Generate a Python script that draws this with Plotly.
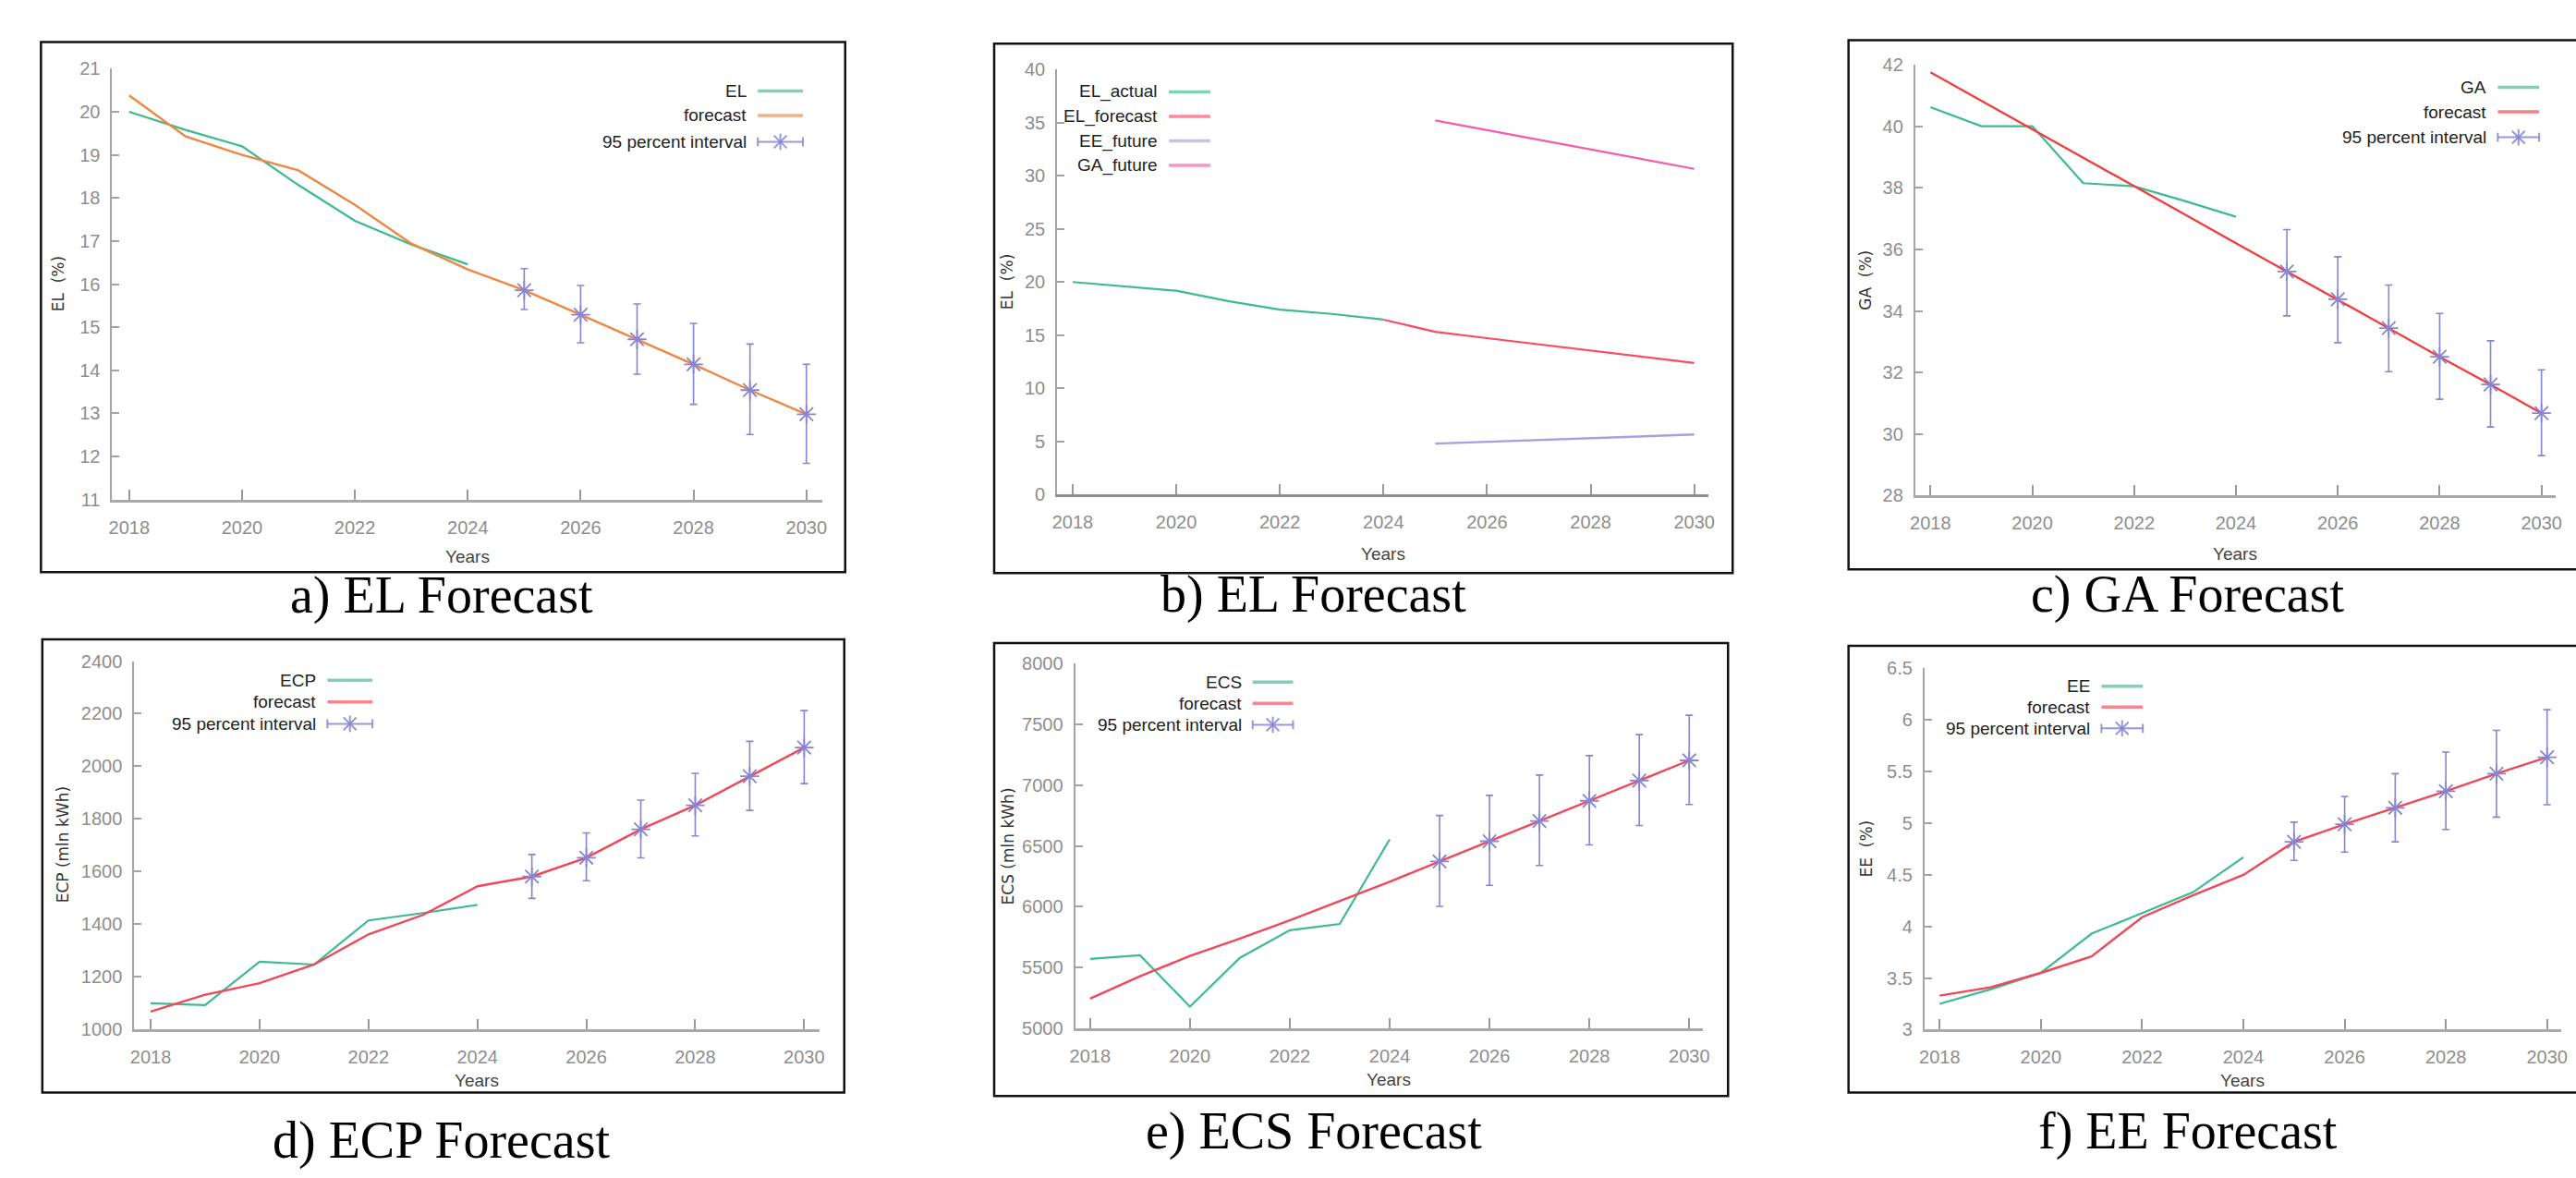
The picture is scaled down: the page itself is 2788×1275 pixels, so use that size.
import plotly.graph_objects as go

W, H = 2788, 1275

# ---------------- data ----------------
years_all = [2018, 2019, 2020, 2021, 2022, 2023, 2024, 2025, 2026, 2027, 2028, 2029, 2030]
years_hist = [2018, 2019, 2020, 2021, 2022, 2023, 2024]
years_fc = [2025, 2026, 2027, 2028, 2029, 2030]
years_b_fc = [2024, 2025, 2026, 2027, 2028, 2029, 2030]
x_ticks = [2018, 2020, 2022, 2024, 2026, 2028, 2030]

# a) EL
el_actual = [20.0, 19.58, 19.2, 18.3, 17.47, 16.92, 16.46]
el_forecast = [20.38, 19.43, 19.0, 18.64, 17.84, 16.94, 16.34, 15.86, 15.29, 14.72, 14.14, 13.54, 12.98]
el_upper = [16.36, 15.97, 15.54, 15.09, 14.61, 14.14]
el_lower = [15.41, 14.64, 13.91, 13.21, 12.51, 11.84]

# b) EL combined
b_el_actual = [20.0, 19.6, 19.18, 18.2, 17.4, 17.0, 16.46]
b_el_forecast = [16.46, 15.31, 14.72, 14.12, 13.57, 12.97, 12.38]
b_ee_future = [4.8, 4.98, 5.14, 5.3, 5.47, 5.65]
b_ga_future = [35.2, 34.3, 33.4, 32.5, 31.6, 30.65]

# c) GA
ga_actual = [40.62, 40.0, 40.0, 38.15, 38.05, 37.57, 37.06]
ga_forecast = [41.75, 40.83, 39.9, 38.98, 38.06, 37.13, 36.2, 35.28, 34.38, 33.44, 32.51, 31.61, 30.68]
ga_upper = [36.64, 35.76, 34.84, 33.92, 33.03, 32.09]
ga_lower = [33.84, 32.97, 32.03, 31.13, 30.23, 29.3]

# d) ECP
ecp_actual = [1098, 1091, 1256, 1245, 1413, 1441, 1472]
ecp_forecast = [1066, 1130, 1174, 1245, 1360, 1434, 1543, 1580, 1652, 1760, 1851, 1962, 2071]
ecp_upper = [1664, 1746, 1871, 1973, 2095, 2212]
ecp_lower = [1497, 1564, 1651, 1735, 1832, 1934]

# e) ECS
ecs_actual = [5569, 5599, 5176, 5578, 5805, 5857, 6553]
ecs_forecast = [5242, 5427, 5593, 5736, 5887, 6044, 6205, 6371, 6538, 6704, 6871, 7037, 7204]
ecs_upper = [6750, 6916, 7083, 7243, 7416, 7576]
ecs_lower = [6002, 6175, 6338, 6508, 6668, 6841]

# f) EE
ee_actual = [3.25, 3.39, 3.55, 3.93, 4.13, 4.33, 4.67]
ee_forecast = [3.33, 3.41, 3.55, 3.71, 4.09, 4.30, 4.50, 4.82, 4.99, 5.15, 5.31, 5.48, 5.64]
ee_upper = [5.01, 5.26, 5.48, 5.69, 5.90, 6.10]
ee_lower = [4.64, 4.72, 4.82, 4.94, 5.06, 5.18]

# ---------------- style ----------------
GREEN = "#3dba8e"
ORANGE = "#ec8744"
RED = "#f0485a"
RED_C = "#ee4040"
LAV = "#8785d2"
PINK = "#f65ab0"
B_RED = "#fa4a68"
B_LAV = "#a4a2dc"

SANS = "Liberation Sans, Arial, sans-serif"
TICK_FONT = dict(family=SANS, size=20, color="#8e8e8e")
LEG_FONT = dict(family=SANS, size=19, color="#222222")
YT_FONT = dict(family="DejaVu Sans, sans-serif", size=17, color="#333333")
XT_FONT = dict(family=SANS, size=19, color="#444444")
CAP_FONT = dict(family="Liberation Serif, Times New Roman, serif", size=56, color="#000000")


def fx(px):
    return px / W


def fy(py):
    return 1 - py / H


def split_fc(fc):
    return fc[7:]


def err_plus(fc, up):
    return [u - c for u, c in zip(up, split_fc(fc))]


def err_minus(fc, lo):
    return [c - l for l, c in zip(lo, split_fc(fc))]


fig = go.Figure()

panels = [
    dict(n=1, plot=(116, 888, 64.5, 539), yr=(11, 21), dt=1, ylab="EL  (%)", ylab_x=57,
         box=(38.5, 913, 35, 619), cap="a) EL Forecast", cap_xy=(474, 645), years_y=602,
         leg=(808, 818, 867, [89, 116, 145])),
    dict(n=2, plot=(1143.5, 1852, 65.3, 533.5), yr=(0, 40), dt=5, ylab="EL  (%)", ylab_x=1089,
         box=(1075, 1878, 37, 620), cap="b) EL Forecast", cap_xy=(1422, 644), years_y=599,
         leg=(1255, 1265, 1310, [90, 117, 144, 171])),
    dict(n=3, plot=(2076.5, 2773, 60, 534.7), yr=(28, 42), dt=2, ylab="GA  (%)", ylab_x=2023,
         box=(2004, 2830, 33, 616), cap="c) GA Forecast", cap_xy=(2373, 644), years_y=599,
         leg=(2700, 2710, 2755, [85, 112, 140])),
    dict(n=4, plot=(140, 885, 717, 1122), yr=(1000, 2400), dt=200, ylab="ECP (mln kWh)", ylab_x=62,
         box=(40, 912, 693, 1192), cap="d) ECP Forecast", cap_xy=(474, 1245), years_y=1179,
         leg=(340, 350, 399, [738, 762, 786])),
    dict(n=5, plot=(1163, 1846, 719.8, 1121), yr=(5000, 8000), dt=500, ylab="ECS (mln kWh)", ylab_x=1090,
         box=(1075, 1873, 697, 1196), cap="e) ECS Forecast", cap_xy=(1423, 1235), years_y=1178,
         leg=(1346, 1356, 1400, [740, 763.5, 787])),
    dict(n=6, plot=(2086.6, 2779, 725, 1122.8), yr=(3, 6.5), dt=0.5, ylab="EE  (%)", ylab_x=2023,
         box=(2004, 2830, 700, 1192), cap="f) EE Forecast", cap_xy=(2373, 1235), years_y=1179,
         leg=(2269, 2279, 2324, [744.5, 767.5, 791])),
]

series = {
    1: dict(actual=("EL", el_actual, GREEN), fc=("forecast", el_forecast, ORANGE), up=el_upper, lo=el_lower),
    3: dict(actual=("GA", ga_actual, GREEN), fc=("forecast", ga_forecast, RED_C), up=ga_upper, lo=ga_lower),
    4: dict(actual=("ECP", ecp_actual, GREEN), fc=("forecast", ecp_forecast, RED), up=ecp_upper, lo=ecp_lower),
    5: dict(actual=("ECS", ecs_actual, GREEN), fc=("forecast", ecs_forecast, RED), up=ecs_upper, lo=ecs_lower),
    6: dict(actual=("EE", ee_actual, GREEN), fc=("forecast", ee_forecast, RED), up=ee_upper, lo=ee_lower),
}

shapes = []
annotations = []

for p in panels:
    n = p["n"]
    xa = "x" if n == 1 else f"x{n}"
    ya = "y" if n == 1 else f"y{n}"
    l, r, t, b = p["plot"]
    fig.layout[("xaxis" if n == 1 else f"xaxis{n}")] = dict(
        domain=[fx(l), fx(r)], range=[2017.7, 2030.28], anchor=ya,
        showline=True, linecolor="#a9a9a9" if n != 2 else "#8f8f8f", linewidth=3,
        ticks="inside", ticklen=11, tickwidth=1.5, tickcolor="#9a9a9a",
        tickvals=x_ticks, showgrid=False, zeroline=False, tickfont=TICK_FONT,
        ticklabelstandoff=10,
    )
    fig.layout[("yaxis" if n == 1 else f"yaxis{n}")] = dict(
        domain=[fy(b), fy(t)], range=list(p["yr"]), anchor=xa,
        showline=True, linecolor="#a3a3a3", linewidth=2,
        ticks="inside", ticklen=8, tickwidth=1.5, tickcolor="#a3a3a3",
        tick0=p["yr"][0], dtick=p["dt"], showgrid=False, zeroline=False, tickfont=TICK_FONT,
        ticklabelstandoff=7,
    )

    # frame
    bl, br, bt, bb = p["box"]
    shapes.append(dict(type="rect", xref="paper", yref="paper", x0=fx(bl), x1=fx(br), y0=fy(bb), y1=fy(bt),
                       line=dict(color="#111111", width=2.5), fillcolor="rgba(0,0,0,0)"))
    # captions and axis titles
    annotations.append(dict(text=p["cap"], xref="paper", yref="paper", x=fx(p["cap_xy"][0]), y=fy(p["cap_xy"][1]),
                            xanchor="center", yanchor="middle", showarrow=False, font=CAP_FONT))
    annotations.append(dict(text=p["ylab"], xref="paper", yref="paper", x=fx(p["ylab_x"]), y=fy((t + b) / 2),
                            xanchor="center", yanchor="middle", textangle=-90, showarrow=False, font=YT_FONT))
    annotations.append(dict(text="Years", xref="paper", yref="paper", x=fx((l + r) / 2), y=fy(p["years_y"]),
                            xanchor="center", yanchor="middle", showarrow=False, font=XT_FONT))

    # legend (gnuplot style: text right-aligned, sample on the right)
    tr, s0, s1, rows = p["leg"]
    if n == 2:
        entries = [("EL_actual", GREEN, False), ("EL_forecast", B_RED, False),
                   ("EE_future", B_LAV, False), ("GA_future", PINK, False)]
    else:
        s = series[n]
        entries = [(s["actual"][0], s["actual"][2], False), (s["fc"][0], s["fc"][2], False),
                   ("95 percent interval", LAV, True)]
    for (lab, col, is_err), ry in zip(entries, rows):
        annotations.append(dict(text=lab, xref="paper", yref="paper", x=fx(tr), y=fy(ry),
                                xanchor="right", yanchor="middle", showarrow=False, font=LEG_FONT))
        if not is_err:
            shapes.append(dict(type="line", xref="paper", yref="paper", x0=fx(s0), x1=fx(s1),
                               y0=fy(ry), y1=fy(ry), line=dict(color=col, width=3.5), opacity=0.65))
        else:
            cx = (s0 + s1) / 2
            segs = [(s0, ry, s1, ry), (s0, ry - 5, s0, ry + 5), (s1, ry - 5, s1, ry + 5),
                    (cx, ry - 9, cx, ry + 9), (cx - 7, ry - 7, cx + 7, ry + 7), (cx - 7, ry + 7, cx + 7, ry - 7)]
            for x0, y0, x1, y1 in segs:
                shapes.append(dict(type="line", xref="paper", yref="paper", x0=fx(x0), x1=fx(x1),
                                   y0=fy(y0), y1=fy(y1), line=dict(color=col, width=2), opacity=0.85))

    # traces
    if n == 2:
        fig.add_trace(go.Scatter(x=years_hist, y=b_el_actual, mode="lines", name="EL_actual",
                                 line=dict(color=GREEN, width=2.2), xaxis=xa, yaxis=ya, showlegend=False))
        fig.add_trace(go.Scatter(x=years_b_fc, y=b_el_forecast, mode="lines", name="EL_forecast",
                                 line=dict(color=B_RED, width=2.2), xaxis=xa, yaxis=ya, showlegend=False))
        fig.add_trace(go.Scatter(x=years_fc, y=b_ee_future, mode="lines", name="EE_future",
                                 line=dict(color=B_LAV, width=2.4), xaxis=xa, yaxis=ya, showlegend=False))
        fig.add_trace(go.Scatter(x=years_fc, y=b_ga_future, mode="lines", name="GA_future",
                                 line=dict(color=PINK, width=2.2), xaxis=xa, yaxis=ya, showlegend=False))
    else:
        s = series[n]
        fig.add_trace(go.Scatter(x=years_hist, y=s["actual"][1], mode="lines", name=s["actual"][0],
                                 line=dict(color=s["actual"][2], width=2.2), xaxis=xa, yaxis=ya, showlegend=False))
        fig.add_trace(go.Scatter(x=years_all, y=s["fc"][1], mode="lines", name="forecast",
                                 line=dict(color=s["fc"][2], width=2.4), xaxis=xa, yaxis=ya, showlegend=False))
        fc = s["fc"][1]
        fig.add_trace(go.Scatter(
            x=years_fc, y=split_fc(fc), mode="markers", name="95 percent interval",
            marker=dict(symbol="asterisk-open", size=17, color=LAV, line=dict(color=LAV, width=1.8)),
            error_y=dict(type="data", symmetric=False, array=err_plus(fc, s["up"]),
                         arrayminus=err_minus(fc, s["lo"]), color=LAV, thickness=1.6, width=4),
            xaxis=xa, yaxis=ya, showlegend=False))

fig.update_layout(
    width=W, height=H, margin=dict(l=0, r=0, t=0, b=0),
    paper_bgcolor="white", plot_bgcolor="white",
    shapes=shapes, annotations=annotations, showlegend=False,
)

fig.write_html("out.html", config={"displayModeBar": False},
               post_script="document.body.style.margin='0';document.body.style.overflow='hidden';")
